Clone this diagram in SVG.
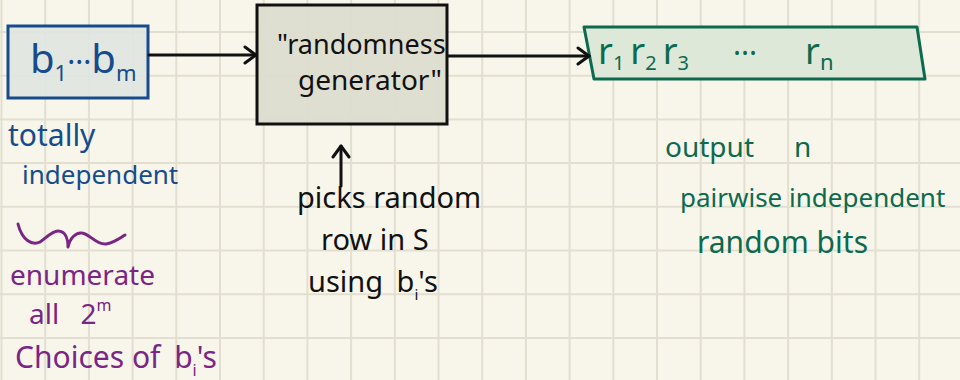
<svg xmlns="http://www.w3.org/2000/svg" width="960" height="380" viewBox="0 0 960 380">
<style>
.grid{stroke:#e2dfd1;stroke-width:2;fill:none}
.t{font-family:"Noto Sans","Liberation Sans",sans-serif}
.blue{fill:#164b8c}
.green{fill:#0c6a4e}
.purple{fill:#7b2585}
.black{fill:#111}
.conn{stroke:#111;stroke-width:3;fill:none;stroke-linecap:round}
</style>
<defs>
<marker id="chev" viewBox="0 0 16 22" refX="14" refY="11" markerWidth="16" markerHeight="22" markerUnits="userSpaceOnUse" orient="auto">
<path d="M3,3 L14,11 L3,19" fill="none" stroke="#111" stroke-width="3" stroke-linecap="round" stroke-linejoin="round"/>
</marker>
</defs>
<rect width="960" height="380" fill="#f8f6ea"/>
<path class="grid" d="M1.5,0V380M45.2,0V380M88.9,0V380M132.6,0V380M176.3,0V380M220,0V380M263.7,0V380M307.4,0V380M351.1,0V380M394.8,0V380M438.5,0V380M482.2,0V380M525.9,0V380M569.6,0V380M613.3,0V380M657,0V380M700.7,0V380M744.4,0V380M788.1,0V380M831.8,0V380M875.5,0V380M919.2,0V380M0,32H960M0,75.7H960M0,119.4H960M0,163.1H960M0,206.8H960M0,250.5H960M0,294.2H960M0,337.9H960"/>

<g id="input">
<rect x="8" y="26" width="140" height="72" fill="#dfe5e1" fill-opacity="0.9" stroke="#164b8c" stroke-width="3"/>
<text class="t blue" x="30" y="73" font-size="40">b<tspan font-size="22" dy="8">1</tspan><tspan dy="-8" font-size="30">···</tspan>b<tspan font-size="22" dy="8">m</tspan></text>
</g>

<g id="generator">
<rect x="257" y="5" width="190" height="119" fill="#dcdcd0" fill-opacity="0.95" stroke="#111" stroke-width="3"/>
<text class="t black" x="277" y="54" font-size="27">"randomness</text>
<text class="t black" x="298" y="90" font-size="28">generator"</text>
</g>

<g id="output">
<polygon points="584,27 917,27 925,79 594,79" fill="#dde8d8" stroke="#0c6a4e" stroke-width="3" stroke-linejoin="round"/>
<text class="t green" x="598" y="64" font-size="36">r<tspan font-size="20" dy="6">1</tspan><tspan dy="-6" dx="6">r</tspan><tspan font-size="20" dy="6">2</tspan><tspan dy="-6" dx="6">r</tspan><tspan font-size="20" dy="6">3</tspan><tspan dy="-6" dx="44" font-size="30">···</tspan><tspan dx="48">r</tspan><tspan font-size="22" dy="6">n</tspan></text>
</g>

<g id="connectors">
<path class="conn" d="M149,55 H256" marker-end="url(#chev)"/>
<path class="conn" d="M448,56 H589" marker-end="url(#chev)"/>
<path class="conn" d="M341,186 V146" marker-end="url(#chev)"/>
</g>

<g id="note-input">
<text class="t blue" x="8" y="146" font-size="30">totally</text>
<text class="t blue" x="22" y="184" font-size="26">independent</text>
</g>

<g id="note-enumerate">
<path d="M18,224 C22,240 32,246 40,242 C46,238 52,231 58,231 C66,231 68,240 68,247 C70,238 76,232 82,233 C90,234 96,245 106,244 C114,243 120,238 125,235" fill="none" stroke="#7b2585" stroke-width="3" stroke-linecap="round" stroke-linejoin="round"/>
<text class="t purple" x="10" y="285" font-size="28">enumerate</text>
<text class="t purple" x="29" y="324" font-size="28">all <tspan dx="14">2</tspan><tspan font-size="16" dy="-13">m</tspan></text>
<text class="t purple" x="15" y="368" font-size="30">Choices of <tspan dx="6">b</tspan><tspan font-size="16" dy="8">i</tspan><tspan dy="-8">'s</tspan></text>
</g>

<g id="note-generator">
<text class="t black" x="297" y="208" font-size="29">picks random</text>
<text class="t black" x="321" y="250" font-size="29">row in S</text>
<text class="t black" x="308" y="292" font-size="29">using <tspan dx="6">b</tspan><tspan font-size="15" dy="8">i</tspan><tspan dy="-8">'s</tspan></text>
</g>

<g id="note-output">
<text class="t green" x="665" y="157" font-size="28">output<tspan dx="40">n</tspan></text>
<text class="t green" x="680" y="207" font-size="26">pairwise independent</text>
<text class="t green" x="697" y="253" font-size="30">random bits</text>
</g>
</svg>
